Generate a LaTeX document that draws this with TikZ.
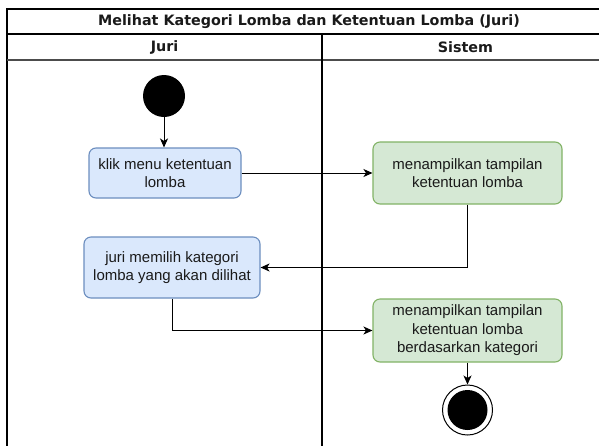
\documentclass[tikz,border=0pt]{standalone}
\usepackage{fontspec}
\setmainfont{Liberation Sans}
\newfontfamily\headfont{DejaVu Sans}
\usetikzlibrary{arrows.meta,positioning}

\definecolor{actfill}{HTML}{DAE8FC}
\definecolor{actline}{HTML}{6C8EBF}
\definecolor{sysfill}{HTML}{D5E8D4}
\definecolor{sysline}{HTML}{82B366}
\definecolor{ink}{HTML}{1A1A1A}

\tikzset{
  lane/.style={draw=black, line width=1.2pt},
  actbox/.style={draw=actline, fill=actfill, rounded corners=7pt, line width=1.1pt,
    align=center, inner sep=0pt, text=ink, font=\fontsize{15}{18.5}\selectfont},
  sysbox/.style={draw=sysline, fill=sysfill, rounded corners=7pt, line width=1.1pt,
    align=center, inner sep=0pt, text=ink, font=\fontsize{15}{18.5}\selectfont},
  flow/.style={draw=black, line width=1pt, -{Stealth[length=9pt,width=8pt,inset=2.5pt]}},
  initial/.style={circle, fill=black, minimum size=42pt, inner sep=0pt},
  finalring/.style={circle, draw=black, fill=white, line width=1pt, minimum size=50pt, inner sep=0pt},
  finaldot/.style={circle, fill=black, minimum size=40pt, inner sep=0pt},
  headtext/.style={text=ink, font=\headfont\bfseries\fontsize{14.3}{17}\selectfont}
}

\begin{document}
\begin{tikzpicture}[x=1pt, y=-1pt]
  \useasboundingbox (0,0) rectangle (599,445);
  \clip (0,0) rectangle (599,445);
  \fill[white] (0,0) rectangle (599,445);

  % swimlane frame
  \draw[lane] (611,9) -- (7,9) -- (7,450);
  \draw[lane] (7,34) -- (611,34);
  \draw[lane, draw=black!70] (7,60) -- (611,60);
  \draw[lane] (322,34) -- (322,450);

  \node[headtext] (title) at (309,21.5) {Melihat Kategori Lomba dan Ketentuan Lomba (Juri)};
  \node[headtext] (laneA) at (164.5,47) {Juri};
  \node[headtext] (laneB) at (465.5,47) {Sistem};

  % activities
  \node[initial] (start) at (164,96) {};
  \node[actbox, minimum width=152pt, minimum height=50pt] (klik) at (165,173)
    {klik menu ketentuan\\lomba};
  \node[sysbox, minimum width=189pt, minimum height=62pt] (tampil) at (467.5,173)
    {menampilkan tampilan\\ketentuan lomba};
  \node[actbox, minimum width=176pt, minimum height=61pt] (pilih) at (172,267.5)
    {juri memilih kategori\\lomba yang akan dilihat};
  \node[sysbox, minimum width=189pt, minimum height=63pt] (hasil) at (467.5,330.5)
    {menampilkan tampilan\\ketentuan lomba\\berdasarkan kategori};
  \node[finalring] (stop) at (467.5,410) {};
  \node[finaldot] (stopdot) at (stop.center) {};

  % control flow
  \draw[flow] (start) -- (start |- klik.north);
  \draw[flow] (klik.east) -- (tampil.west);
  \draw[flow] (tampil.south) |- (pilih.east);
  \draw[flow] (pilih.south) |- (hasil.west);
  \draw[flow] (hasil.south) -- (stop.north);
\end{tikzpicture}
\end{document}
